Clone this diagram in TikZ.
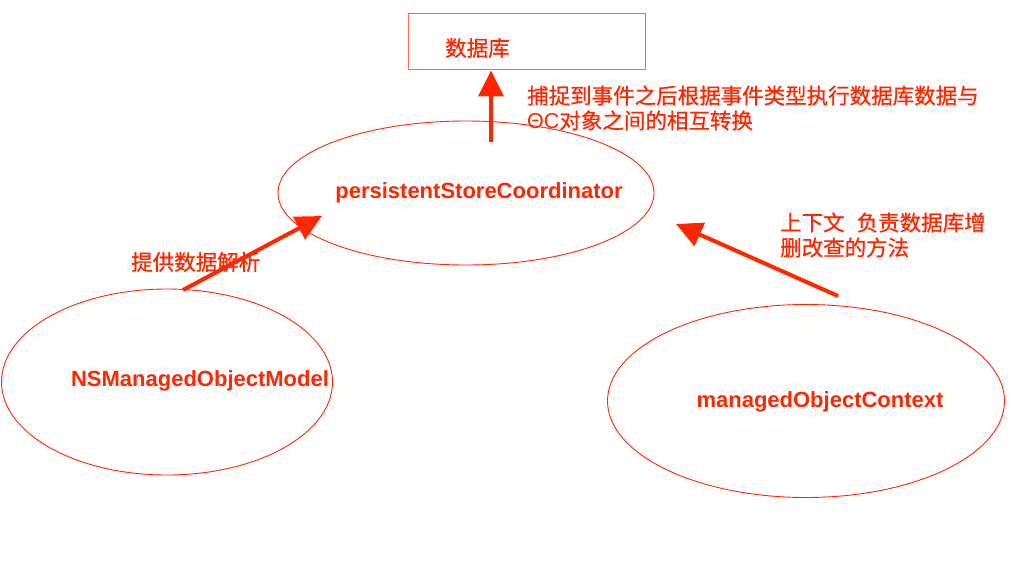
\documentclass[tikz,border=0pt]{standalone}
\usepackage{fontspec}
\setmainfont{Liberation Sans}
\newfontfamily\cjk{Noto Sans CJK SC}[FakeBold=0.8]
\definecolor{myred}{RGB}{255,38,0}
\definecolor{mylight}{RGB}{255,105,85}
\usetikzlibrary{shapes.geometric,arrows.meta,positioning}

\begin{document}
\begin{tikzpicture}[x=1pt, y=-1pt,
    bubble/.style={draw=myred, ellipse, line width=0.9pt, inner sep=0pt},
    partname/.style={text=myred, font=\bfseries\fontsize{22}{26}\selectfont},
    note/.style={text=myred, font=\cjk\fontsize{21.5}{25}\selectfont, align=left, anchor=west, inner sep=0pt},
    fat/.style={draw=myred, line width=4pt, -{Triangle[length=26pt, width=25pt]}}]
    \useasboundingbox (0,0) rectangle (1024,564);
    % the three parts and the store
    \node (db) [draw=mylight, line width=1pt, minimum width=237pt, minimum height=56pt] at (526.5,42) {};
    \node (store) [bubble, minimum width=376pt, minimum height=144pt] at (466,193) {};
    \node (model) [bubble, minimum width=331pt, minimum height=186pt] at (167,382) {};
    \node (context) [bubble, minimum width=397pt, minimum height=193pt] at (806,401) {};
    % arrows
    \coordinate (up0) at (491,142);
    \coordinate (left0) at (183,290);
    \coordinate (left1) at (322,216);
    \coordinate (right0) at (838,296);
    \coordinate (right1) at (676,224);
    \draw[fat] (up0) -- (up0 |- db.south);
    \draw[fat] (left0) -- (left1);
    \draw[fat] (right0) -- (right1);
    % texts
    \node (dbtext) [note] at (445,48) {数据库};
    \node (storetext) [partname] at (479,193) {persistentStoreCoordinator};
    \node (modeltext) [partname] at (200,381) {NSManagedObjectModel};
    \node (contexttext) [partname] at (820,402) {managedObjectContext};
    \node (eventnote) [note] at (527,108) {捕捉到事件之后根据事件类型执行数据库数据与\\{\rmfamily ΘC}对象之间的相互转换};
    \node (parsenote) [note] at (131,262) {提供数据解析};
    \node (ctxnote) [note] at (780,235) {上下文\hspace{12pt}负责数据库增\\删改查的方法};
\end{tikzpicture}
\end{document}
